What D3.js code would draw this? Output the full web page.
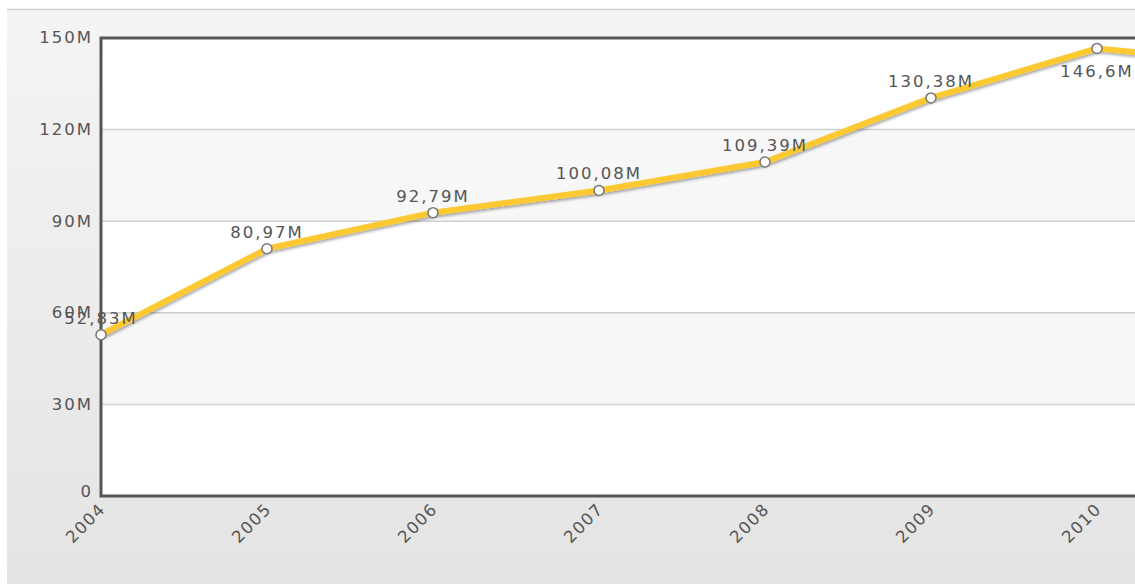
<!DOCTYPE html>
<html>
<head>
<meta charset="utf-8">
<script src="https://cdn.jsdelivr.net/npm/d3@7"></script>
<style>
  html, body { margin: 0; padding: 0; background: #fff; overflow: hidden; }
  text { font-family: "DejaVu Sans", Verdana, sans-serif; fill: #555; }
</style>
</head>
<body>
<div id="chart"></div>
<script>
// ========== DATA ==========
const years = ["2004", "2005", "2006", "2007", "2008", "2009", "2010", "2011"];
const values = [52.83, 80.97, 92.79, 100.08, 109.39, 130.38, 146.6, 141.2];   // millions
const valueLabels = ["52,83M", "80,97M", "92,79M", "100,08M", "109,39M", "130,38M", "146,6M", "141,2M"];
const yTicks = [0, 30, 60, 90, 120, 150];
const yTickLabels = ["0", "30M", "60M", "90M", "120M", "150M"];

const width = 1135, height = 587;
const margin = { left: 101, top: 38, bottom: 91 };
const step = 166;
const innerHeight = height - margin.top - margin.bottom;
const fontSize = 16.5;

const svg = d3.select("#chart").append("svg")
    .attr("width", width)
    .attr("height", height);

// ========== BACKGROUND ==========
const defs = svg.append("defs");
const bg = defs.append("linearGradient").attr("id", "bg")
    .attr("x1", 0).attr("y1", 0).attr("x2", 0).attr("y2", 1);
bg.append("stop").attr("offset", "0%").attr("stop-color", "#f4f4f4");
bg.append("stop").attr("offset", "100%").attr("stop-color", "#e4e4e4");

const shadow = defs.append("filter").attr("id", "shadow")
    .attr("x", "-5%").attr("y", "-20%").attr("width", "110%").attr("height", "140%");
shadow.append("feGaussianBlur").attr("in", "SourceAlpha").attr("stdDeviation", 1.5);
shadow.append("feOffset").attr("dx", 1).attr("dy", 2).attr("result", "off");
shadow.append("feComponentTransfer").append("feFuncA").attr("type", "linear").attr("slope", 0.35);
const merge = shadow.append("feMerge");
merge.append("feMergeNode");
merge.append("feMergeNode").attr("in", "SourceGraphic");

svg.append("rect")
    .attr("x", 7).attr("y", 9)
    .attr("width", width).attr("height", height - 12)
    .attr("fill", "url(#bg)");
svg.append("line")
    .attr("x1", 7).attr("x2", width).attr("y1", 9.5).attr("y2", 9.5)
    .attr("stroke", "#d0d0d0").attr("stroke-width", 1.5);

// ========== SCALES ==========
const xScale = d3.scalePoint()
    .domain(years)
    .range([0, step * (years.length - 1)]);

const yScale = d3.scaleLinear()
    .domain([0, 150])
    .range([innerHeight, 0]);

const plotWidth = step * (years.length - 1) + 60;

const inner = svg.append("g")
    .attr("transform", `translate(${margin.left}, ${margin.top})`);

// plot area with alternating bands
inner.append("rect")
    .attr("width", plotWidth).attr("height", innerHeight)
    .attr("fill", "#fff");
inner.selectAll(".band")
    .data(d3.pairs(yTicks).filter((d, i) => i % 2 === 1))
    .join("rect")
    .attr("class", "band")
    .attr("x", 0)
    .attr("y", d => yScale(d[1]))
    .attr("width", plotWidth)
    .attr("height", d => yScale(d[0]) - yScale(d[1]))
    .attr("fill", "#f7f7f7");

// gridlines
inner.selectAll(".grid")
    .data(yTicks.slice(1, -1))
    .join("line")
    .attr("class", "grid")
    .attr("x1", 0).attr("x2", plotWidth)
    .attr("y1", d => yScale(d)).attr("y2", d => yScale(d))
    .attr("stroke", "#cfcfcf").attr("stroke-width", 1.5);

// ========== AXES ==========
const leftAxis = d3.axisLeft(yScale)
    .tickValues(yTicks)
    .tickSize(0)
    .tickPadding(8)
    .tickFormat((d, i) => yTickLabels[i]);

const yAxisG = inner.append("g").call(leftAxis);
yAxisG.select(".domain").remove();
yAxisG.selectAll("text")
    .attr("font-size", fontSize)
    .attr("letter-spacing", 2)
    .attr("fill", "#505050")
    .attr("dy", "0.3em");
yAxisG.selectAll(".tick").filter(d => d === 0).select("text").attr("dy", "0");

const bottomAxis = d3.axisBottom(xScale).tickSize(0).tickPadding(0);
const xAxisG = inner.append("g")
    .attr("transform", `translate(0, ${innerHeight})`)
    .call(bottomAxis);
xAxisG.select(".domain").remove();
xAxisG.selectAll("text")
    .attr("font-size", fontSize)
    .attr("letter-spacing", 1.5)
    .attr("fill", "#606060")
    .attr("text-anchor", "end")
    .attr("transform", "translate(1, 10) rotate(-45)")
    .attr("dy", "0.35em")
    .attr("y", 0);

// plot border: left, top, bottom
inner.append("path")
    .attr("d", `M${plotWidth},0H0V${innerHeight}H${plotWidth}`)
    .attr("fill", "none")
    .attr("stroke", "#555")
    .attr("stroke-width", 3);

// ========== LINE ==========
const points = years.map((y, i) => ({ year: y, value: values[i], label: valueLabels[i] }));

const line = d3.line()
    .x(d => xScale(d.year))
    .y(d => yScale(d.value));

inner.append("path")
    .datum(points)
    .attr("d", line)
    .attr("fill", "none")
    .attr("stroke", "#fcc931")
    .attr("stroke-width", 6)
    .attr("stroke-linejoin", "round")
    .attr("filter", "url(#shadow)");

inner.selectAll(".marker")
    .data(points)
    .join("circle")
    .attr("class", "marker")
    .attr("cx", d => xScale(d.year))
    .attr("cy", d => yScale(d.value))
    .attr("r", 5)
    .attr("fill", "#fff")
    .attr("stroke", "#777")
    .attr("stroke-width", 1.5);

// value labels: above the point, below it when too close to the top
inner.selectAll(".vlabel")
    .data(points)
    .join("text")
    .attr("class", "vlabel")
    .attr("x", d => xScale(d.year))
    .attr("y", d => yScale(d.value) > 30 ? yScale(d.value) - 11 : yScale(d.value) + 29)
    .attr("text-anchor", "middle")
    .attr("font-size", fontSize)
    .attr("letter-spacing", 2)
    .attr("fill", "#505050")
    .text(d => d.label);
</script>
</body>
</html>
